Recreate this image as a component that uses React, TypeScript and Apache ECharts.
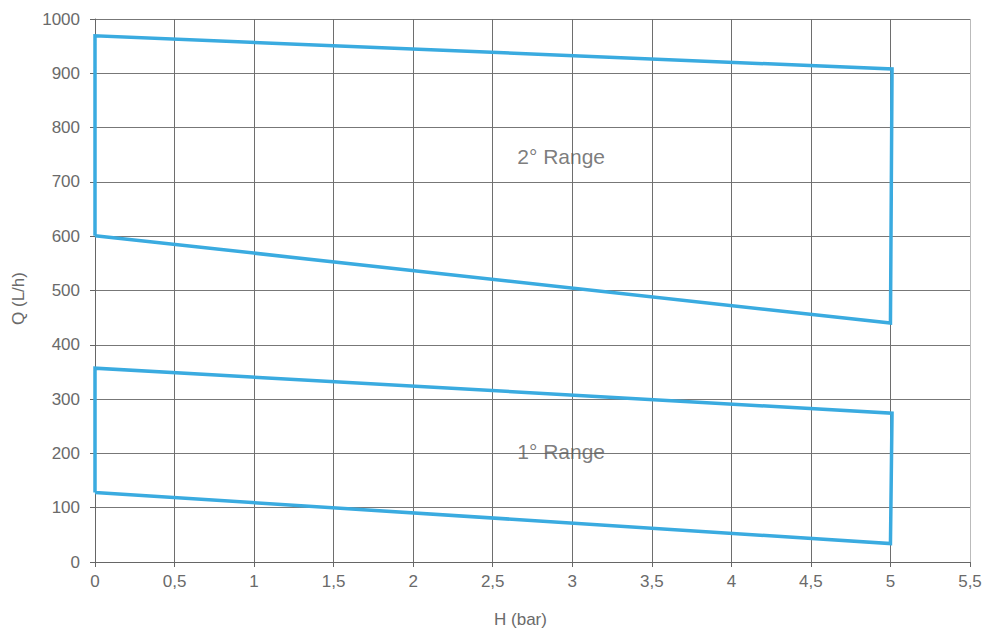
import React, { useEffect, useRef } from "react";
import * as echarts from "echarts";

const range2H = [0, 0, 5.01, 5, 0];
const range2Q = [601, 969, 908, 440, 601];
const range1H = [0, 0, 5.01, 5, 0];
const range1Q = [128, 357, 274, 34, 128];
const labelNames = ["2° Range", "1° Range"];
const labelH = [2.93, 2.93];
const labelQ = [746, 203];

const BLUE = "#3aabe0";
const TXT = "#6a6a6a";
const FONT = "'Liberation Sans', Arial, sans-serif";

export default function App() {
  const ref = useRef<HTMLDivElement>(null);
  useEffect(() => {
    document.body.style.margin = "0";
    const chart = echarts.init(ref.current!, null, { renderer: "svg" });
    const zip = (xs: number[], ys: number[]) => xs.map((x, i) => [x, ys[i]]);
    const xSplit = Array.from({ length: 12 }, (_, i) => (i === 11 ? "#bbbbbb" : "#6e6e6e"));
    chart.setOption({
      animation: false,
      backgroundColor: "#ffffff",
      grid: { left: 95, right: 14, top: 19, bottom: 66, containLabel: false, outerBoundsMode: "none" },
      xAxis: {
        type: "value",
        min: 0,
        max: 5.5,
        interval: 0.5,
        name: "H (bar)",
        nameLocation: "middle",
        nameGap: 49,
        nameTextStyle: { color: TXT, fontSize: 17, fontFamily: FONT, padding: [0, 24, 0, 0] },
        axisLine: { show: true, lineStyle: { color: "#666", width: 1 } },
        axisTick: { show: true, length: 5, lineStyle: { color: "#666" } },
        axisLabel: {
          color: TXT,
          fontSize: 17,
          fontFamily: FONT,
          margin: 11,
          formatter: (v: number) => String(v).replace(".", ","),
        },
        splitLine: { show: true, lineStyle: { color: xSplit, width: 1 } },
      },
      yAxis: {
        type: "value",
        min: 0,
        max: 1000,
        interval: 100,
        name: "Q (L/h)",
        nameLocation: "middle",
        nameGap: 68,
        nameRotate: 90,
        nameTextStyle: { color: TXT, fontSize: 17, fontFamily: FONT, padding: [0, 16, 0, 0] },
        axisLine: { show: true, lineStyle: { color: "#666", width: 1 } },
        axisTick: { show: true, length: 5, lineStyle: { color: "#666" } },
        axisLabel: {
          color: TXT,
          fontSize: 17,
          fontFamily: FONT,
          margin: 15,
          formatter: (v: number) => String(v),
        },
        splitLine: { show: true, lineStyle: { color: "#777777", width: 1 } },
      },
      series: [
        {
          type: "line",
          data: zip(range2H, range2Q),
          symbol: "none",
          lineStyle: { color: BLUE, width: 3.5, join: "miter" },
          z: 5,
        },
        {
          type: "line",
          data: zip(range1H, range1Q),
          symbol: "none",
          lineStyle: { color: BLUE, width: 3.5, join: "miter" },
          z: 5,
        },
        {
          type: "scatter",
          data: labelNames.map((n, i) => ({ name: n, value: [labelH[i], labelQ[i]] })),
          symbolSize: 0,
          label: {
            show: true,
            position: "inside",
            formatter: (p: any) => p.name,
            color: "#5a5a5a",
            fontSize: 21,
            fontFamily: FONT,
          },
          z: 6,
        },
      ],
    });
    return () => chart.dispose();
  }, []);
  return <div ref={ref} style={{ width: 984, height: 628 }} />;
}
